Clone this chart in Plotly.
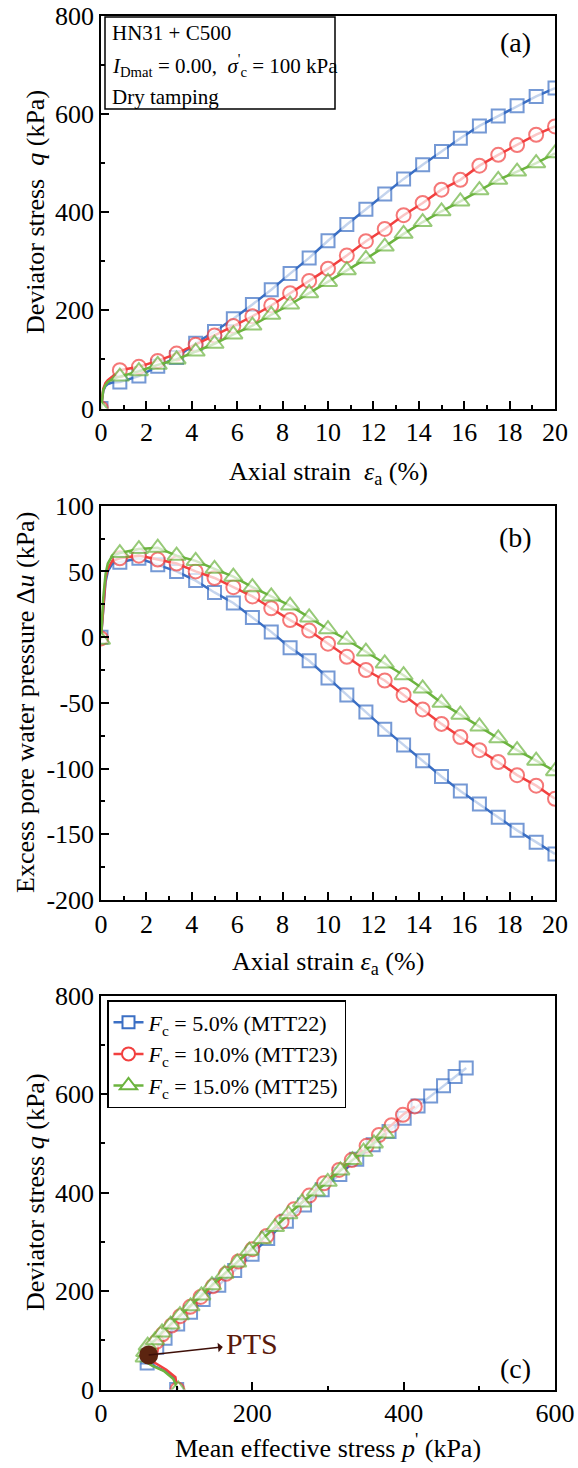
import plotly.graph_objects as go

# ---- test data: HN31 + C500, I_Dmat = 0.00, sigma'_c = 100 kPa, dry tamping ----
# axial strain readings (%); the first few capture the rapid initial response
strain = [0.0, 0.05, 0.1, 0.2, 0.3, 0.5, 0.83, 1.67, 2.5, 3.33, 4.17, 5.0, 5.83,
          6.67, 7.5, 8.33, 9.17, 10.0, 10.83, 11.67, 12.5, 13.33, 14.17, 15.0,
          15.83, 16.67, 17.5, 18.33, 19.17, 20.0]

# deviator stress q (kPa)
q_mtt22 = [0, 22, 36, 46, 50, 53, 54, 66, 86, 104, 133, 157, 183, 212, 242, 275,
           307, 342, 375, 406, 437, 468, 497, 524, 551, 576, 596, 617, 636, 653]
q_mtt23 = [0, 25, 40, 52, 58, 65, 78, 85, 97, 112, 130, 149, 168, 188, 210, 235,
           260, 285, 312, 341, 366, 394, 419, 446, 466, 495, 517, 537, 558, 575]
q_mtt25 = [0, 22, 38, 48, 54, 60, 65, 76, 89, 100, 116, 132, 151, 169, 191, 212,
           235, 258, 282, 305, 330, 356, 380, 402, 422, 445, 466, 483, 500, 520]

# excess pore water pressure du (kPa)
du_mtt22 = [0, 10, 25, 42, 50, 56, 57, 60, 55, 50, 43, 34, 26, 15, 4, -8, -18, -31,
            -44, -57, -70, -82, -94, -106, -117, -127, -137, -147, -156, -165]
du_mtt23 = [-1, 10, 27, 45, 52, 58, 60, 62, 59, 56, 50, 45, 38, 31, 22, 13, 5, -5,
            -15, -25, -33, -44, -55, -66, -76, -86, -95, -105, -113, -123]
du_mtt25 = [-2, 12, 30, 48, 56, 62, 64, 67, 68, 62, 58, 52, 46, 38, 31, 24, 15, 6,
            -2, -11, -20, -29, -39, -50, -59, -68, -77, -86, -94, -102]

SIGMA_C = 100.0  # effective confining stress (kPa)

# phase transformation state and where its label sits
pts_p = [63]
pts_q = [70]
pts_label_at = [200, 93]

series_names = ["<i>F</i><sub>c</sub> = 5.0% (MTT22)",
                "<i>F</i><sub>c</sub> = 10.0% (MTT23)",
                "<i>F</i><sub>c</sub> = 15.0% (MTT25)"]

# tick labels for the pore pressure axis (hyphen minus as printed)
du_tickvals = [100, 50, 0, -50, -100, -150, -200]
du_ticktext = ["100", "50", "0", "-50", "-100", "-150", "-200"]

FONT = "Liberation Serif"
COLORS = ["#3b6fc4", "#f2403f", "#6cb43f"]
SYMBOLS = ["square", "circle", "triangle-up"]
SIZES = [13, 14, 16]


def mean_effective(q, du):
    # p' = sigma'_c + q/3 - du in undrained triaxial compression
    return [SIGMA_C + qi / 3.0 - ui for qi, ui in zip(q, du)]


# symbols are drawn at the regular readings only
marked = [s == 0 or s >= 0.8 for s in strain]

fig = go.Figure()

q_all = [q_mtt22, q_mtt23, q_mtt25]
du_all = [du_mtt22, du_mtt23, du_mtt25]

for panel, (xa, ya) in enumerate([("x", "y"), ("x2", "y2"), ("x3", "y3")]):
    for i in range(3):
        if panel == 0:
            xs, ys = strain, q_all[i]
        elif panel == 1:
            xs, ys = strain, du_all[i]
        else:
            xs, ys = mean_effective(q_all[i], du_all[i]), q_all[i]
        fig.add_trace(go.Scatter(
            x=xs, y=ys, xaxis=xa, yaxis=ya, mode="lines+markers",
            showlegend=False, hoverinfo="skip",
            line=dict(color=COLORS[i], width=2.5),
            marker=dict(symbol=SYMBOLS[i], color="white",
                        size=[SIZES[i] if m else 0 for m in marked],
                        line=dict(color=COLORS[i],
                                  width=[2 if m else 0 for m in marked])),
        ))

# legend entries
for i in range(3):
    fig.add_trace(go.Scatter(
        x=[None], y=[None], xaxis="x3", yaxis="y3", mode="lines+markers",
        name=series_names[i], showlegend=True,
        line=dict(color=COLORS[i], width=2.5),
        marker=dict(symbol=SYMBOLS[i], color="white", size=SIZES[i] - 1,
                    line=dict(color=COLORS[i], width=2)),
    ))

# PTS point
fig.add_trace(go.Scatter(
    x=pts_p, y=pts_q, xaxis="x3", yaxis="y3", mode="markers", showlegend=False,
    hoverinfo="skip", marker=dict(color="#5c2410", size=19, line=dict(width=0)),
))

W = 578.0
H = 1468.0
X_DOM = [101 / W, 555 / W]


def axis(domain, rng, dtick, minor, anchor, tickvals=None, ticktext=None):
    d = dict(
        domain=domain, range=rng, anchor=anchor, dtick=dtick, automargin=False,
        showline=True, linecolor="black", linewidth=1.5, mirror=True,
        ticks="inside", ticklen=8, tickwidth=1.5, tickcolor="black",
        minor=dict(ticks="inside", ticklen=4, tickwidth=1.5, tickcolor="black",
                   dtick=minor, showgrid=False),
        showgrid=False, zeroline=False,
        tickfont=dict(family=FONT, size=26, color="black"),
    )
    if tickvals is not None:
        d.update(tickmode="array", tickvals=tickvals, ticktext=ticktext)
        d.pop("dtick")
    return d


fig.update_layout(
    width=578, height=1468,
    margin=dict(l=0, r=0, t=0, b=0, pad=0, autoexpand=False),
    paper_bgcolor="white", plot_bgcolor="white",
    font=dict(family=FONT, color="black"),
    xaxis=axis(X_DOM, [0, 20], 2, 1, "y"),
    yaxis=axis([1 - 408.5 / H, 1 - 16 / H], [0, 800], 200, 100, "x"),
    xaxis2=axis(X_DOM, [0, 20], 2, 1, "y2"),
    yaxis2=axis([1 - 900 / H, 1 - 505.7 / H], [-200, 100], None, 25, "x2",
                tickvals=du_tickvals, ticktext=du_ticktext),
    xaxis3=axis(X_DOM, [0, 600], 200, 100, "y3"),
    yaxis3=axis([1 - 1389.5 / H, 1 - 995.7 / H], [0, 800], 200, 100, "x3"),
    legend=dict(x=107 / W, y=1 - 1000 / H, xanchor="left", yanchor="top",
                bgcolor="white", bordercolor="black", borderwidth=1.5,
                font=dict(family=FONT, size=22, color="black"),
                itemwidth=30, tracegroupgap=0),
)

ann = []


def paper_text(text, x, y, size, angle=0, xanchor="center"):
    ann.append(dict(text=text, x=x, y=y, xref="paper", yref="paper",
                    showarrow=False, textangle=angle, xanchor=xanchor,
                    yanchor="middle",
                    font=dict(family=FONT, size=size, color="black")))


# axis titles
paper_text("Axial strain  <i>ε</i><sub>a</sub> (%)", 328 / W, 1 - 473 / H, 26)
paper_text("Axial strain <i>ε</i><sub>a</sub> (%)", 328 / W, 1 - 963 / H, 26)
paper_text("Mean effective stress <i>p</i><sup>'</sup> (kPa)", 328 / W, 1 - 1446 / H, 26)
paper_text("Deviator stress  <i>q</i> (kPa)", 35 / W, 1 - 212 / H, 26, angle=-90)
paper_text("Excess pore water pressure Δ<i>u</i> (kPa)", 25 / W, 1 - 703 / H, 26, angle=-90)
paper_text("Deviator stress <i>q</i> (kPa)", 35 / W, 1 - 1192 / H, 26, angle=-90)

# panel labels
paper_text("(a)", 515 / W, 1 - 43 / H, 28)
paper_text("(b)", 515 / W, 1 - 537 / H, 28)
paper_text("(c)", 515 / W, 1 - 1368 / H, 28)

# test condition box
paper_text("HN31 + C500", 110 / W, 1 - 33 / H, 21, xanchor="left")
paper_text("<i>I</i><sub>Dmat</sub> = 0.00,  <i>σ</i><sup>'</sup><sub>c</sub> = 100 kPa",
           110 / W, 1 - 65 / H, 21, xanchor="left")
paper_text("Dry tamping", 110 / W, 1 - 97 / H, 21, xanchor="left")

# PTS call-out
ann.append(dict(text="PTS", x=pts_p[0], y=pts_q[0], xref="x3", yref="y3",
                ax=pts_label_at[0], ay=pts_label_at[1], axref="x3", ayref="y3",
                showarrow=True, arrowside="start", arrowhead=2, arrowsize=1,
                arrowwidth=1.6, arrowcolor="#3e0f08", standoff=0,
                startstandoff=2,
                font=dict(family=FONT, size=30, color="#5a1a0c")))

fig.update_layout(
    annotations=ann,
    shapes=[dict(type="rect", xref="paper", yref="paper",
                 x0=105 / W, x1=335 / W, y0=1 - 109 / H, y1=1 - 17 / H,
                 line=dict(color="black", width=1.5), fillcolor="white",
                 layer="below")],
)

fig.write_html("out.html")
